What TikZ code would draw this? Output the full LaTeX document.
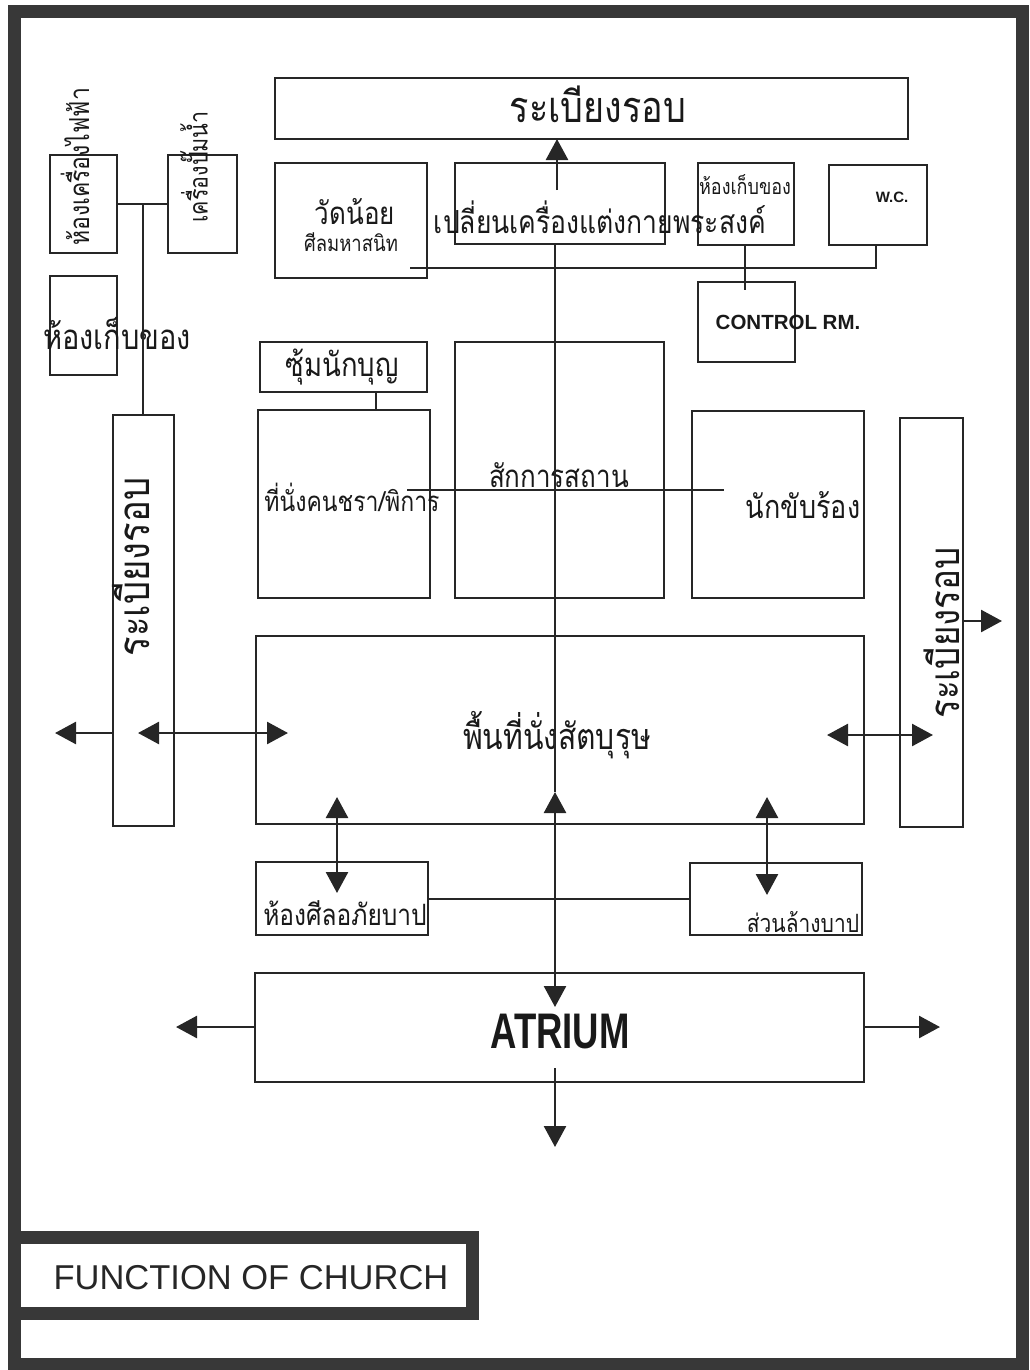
\documentclass[tikz,border=0pt]{standalone}
\usepackage{fontspec}
\setmainfont{Liberation Sans}
\newfontfamily\thaifont[Script=Thai]{Loma}
\usetikzlibrary{arrows.meta}
\tikzset{
  frame/.style={line width=13pt, draw=black!78},
  room/.style={draw=black!85, line width=2.6pt, inner sep=0pt, outer sep=0pt},
  wire/.style={draw=black!85, line width=2.6pt},
  arr/.style={wire, -{Triangle[length=21pt,width=22pt]}},
  dbl/.style={wire, {Triangle[length=21pt,width=22pt]}-{Triangle[length=21pt,width=22pt]}},
  thfont/.style={font=\thaifont\fontsize{#1}{#1}\selectfont, inner sep=0pt, text=black!90},
  th/.style={thfont=#1, yscale=1.2},
  thv/.style={thfont=#1, rotate=90, yscale=1.2},
  lat/.style={font=\fontsize{#1}{#1}\selectfont\bfseries, inner sep=0pt, text=black!90},
}
% room as an empty rectangle: name, left, top, right, bottom (pixels)
\newcommand{\roombox}[5]{\node[room, minimum width={#4-#2}, minimum height={#5-#3}] (#1) at ({(#2+#4)/2},{(#3+#5)/2}) {};}

\begin{document}
\begin{tikzpicture}[x=1pt, y=-1pt]
\useasboundingbox (0,0) rectangle (1029,1370);
\draw[frame] (14,12) rectangle (1022,1364);

% rooms
\roombox{ambtop}{275}{78}{908}{139}
\roombox{chapel}{275}{163}{427}{278}
\roombox{vest}{455}{163}{665}{244}
\roombox{store}{698}{163}{794}{245}
\roombox{wc}{829}{165}{927}{245}
\roombox{ctrl}{698}{282}{795}{362}
\roombox{elec}{50}{155}{117}{253}
\roombox{pump}{168}{155}{237}{253}
\roombox{storeL}{50}{276}{117}{375}
\roombox{walkL}{113}{415}{174}{826}
\roombox{walkR}{900}{418}{963}{827}
\roombox{saint}{260}{342}{427}{392}
\roombox{elder}{258}{410}{430}{598}
\roombox{sanct}{455}{342}{664}{598}
\roombox{choir}{692}{411}{864}{598}
\roombox{nave}{256}{636}{864}{824}
\roombox{confess}{256}{862}{428}{935}
\roombox{bapt}{690}{863}{862}{935}
\roombox{atrium}{255}{973}{864}{1082}

% labels
\node[th=36] (tAmbTop) at (598,104) {ระเบียงรอบ};
\node[th=26] (tChapel) at (355,212) {วัดน้อย};
\node[th=18.5] (tChapelB) at (351,242) {ศีลมหาสนิท};
\node[th=26.5] (tVest) at (600,217) {เปลี่ยนเครื่องแต่งกายพระสงค์};
\node[th=18] (tStore) at (745,185) {ห้องเก็บของ};
\node[lat=15] (tWC) at (892,197) {W.C.};
\node[lat=20.5] (tCtrl) at (788,322) {CONTROL RM.};
\node[thv=23] (tElec) at (75,167) {ห้องเครื่องไฟฟ้า};
\node[thv=21.5] (tPump) at (194,167) {เครื่องปั๊มน้ำ};
\node[th=29] (tStoreL) at (117,333) {ห้องเก็บของ};
\node[thv=36.5] (tWalkL) at (131,567) {ระเบียงรอบ};
\node[thv=35] (tWalkR) at (942,633) {ระเบียงรอบ};
\node[th=27.5] (tSaint) at (342,367) {ซุ้มนักบุญ};
\node[th=23] (tElder) at (352,497) {ที่นั่งคนชรา/พิการ};
\node[th=26] (tSanct) at (559,475) {สักการสถาน};
\node[th=27] (tChoir) at (803,505) {นักขับร้อง};
\node[th=30] (tNave) at (557,735) {พื้นที่นั่งสัตบุรุษ};
\node[th=24.5] (tConf) at (345,913) {ห้องศีลอภัยบาป};
\node[th=21] (tBapt) at (803,922) {ส่วนล้างบาป};
\node[lat=50, xscale=0.73] (tAtrium) at (560,1032) {ATRIUM};

% links
\coordinate (axis) at (555,0);
\coordinate (vtop) at (557,190);
\draw[arr] (vtop) -- (vtop |- ambtop.south);
\coordinate (upTip) at (555,792);
\coordinate (downTip) at (555,1007);
\draw[wire] (vest.south -| axis) -- (upTip);
\draw[dbl] (upTip) -- (downTip);
\coordinate (exitS) at (555,1147);
\draw[arr] ([yshift=14pt]atrium.south -| axis) -- (exitS);

\coordinate (jL) at (143,204);
\draw[wire] (elec.east |- jL) -- (pump.west |- jL);
\draw[wire] (jL) -- (walkL.north -| jL);
\coordinate (jS) at (376,0);
\draw[wire] (saint.south -| jS) -- (elder.north -| jS);
\coordinate (jA) at (410,268);
\coordinate (jB) at (876,268);
\draw[wire] (jA) -- (jB) -- (wc.south -| jB);
\coordinate (jC) at (745,290);
\draw[wire] (store.south -| jC) -- (jC);
\coordinate (jD) at (407,490);
\coordinate (jE) at (724,490);
\draw[wire] (jD) -- (jE);
\coordinate (jF) at (0,899);
\draw[wire] (confess.east |- jF) -- (bapt.west |- jF);

% side exits
\coordinate (exitW) at (55,733);
\draw[arr] (walkL.west |- exitW) -- (exitW);
\coordinate (tipA) at (138,733);
\coordinate (tipB) at (288,733);
\draw[dbl] (tipA) -- (tipB);
\coordinate (tipC) at (827,735);
\coordinate (tipD) at (933,735);
\draw[dbl] (tipC) -- (tipD);
\coordinate (exitE) at (1002,621);
\draw[arr] (walkR.east |- exitE) -- (exitE);
\coordinate (tipE) at (337,797);
\coordinate (tipF) at (337,893);
\draw[dbl] (tipE) -- (tipF);
\coordinate (tipG) at (767,797);
\coordinate (tipH) at (767,895);
\draw[dbl] (tipG) -- (tipH);
\coordinate (exitAW) at (176,1027);
\draw[arr] (atrium.west |- exitAW) -- (exitAW);
\coordinate (exitAE) at (940,1027);
\draw[arr] (atrium.east |- exitAE) -- (exitAE);

% title
\draw[frame, fill=white] (14,1237) rectangle (472,1313);
\node[font=\fontsize{34.5}{34.5}\selectfont, inner sep=0pt, text=black!85] (tTitle) at (251,1278) {FUNCTION OF CHURCH};
\end{tikzpicture}
\end{document}
